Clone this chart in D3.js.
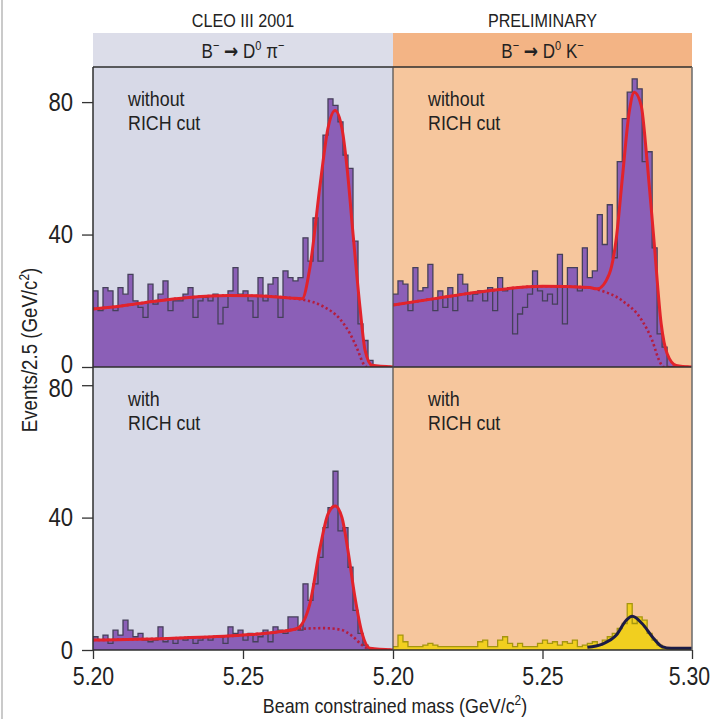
<!DOCTYPE html>
<html>
<head>
<meta charset="utf-8">
<script src="https://cdn.jsdelivr.net/npm/d3@7"></script>
<style>
  body { margin: 0; background: #fff; }
  svg text { font-family: "Liberation Sans", Arial, sans-serif; fill: #222; }
</style>
</head>
<body>
<div id="chart"></div>
<script>
// ---------------------------------------------------------------------------
// data: 60 bins from 5.20 to 5.30 GeV/c^2 in each panel
// ---------------------------------------------------------------------------
var massMin = 5.20, massMax = 5.30, binCount = 60;

// B- -> D0 pi-, without RICH cut
var piNoCut = [23,17,24,23,17,24,22,28,20,18, 15,25,19,22,26,17,20,20,22,24,
               15,20,21,20,22,13,18,23,30,22, 23,20,15,27,20,25,27,15,29,27,
               26,27,39,32,45,32,70,81,79,74, 64,60,38,13,8,2,0,0,0,0];
// B- -> D0 K-, without RICH cut
var kNoCut  = [22,26,25,17,30,23,24,31,17,23, 18,24,17,28,25,20,22,23,20,24,
               17,27,23,24,10,16,18,22,29,23, 20,22,19,34,13,30,30,23,36,27,
               29,46,37,49,33,62,75,83,87,84, 62,65,36,10,6,0,0,0,0,0];
// B- -> D0 pi-, with RICH cut
var piCut   = [4,3,4.5,2,6,4.5,9,6,4,5, 3,2.5,3,7,2.5,3.5,2,3.5,3,4,
               2,3,4,3,4,4,2,7,5,6, 3,5,2.5,4,6,2.5,7,6,5,10,
               10,6,20,15,20,28,37,43,54,36, 37,25,12,5,1.5,0.5,0,0,0,0];
// B- -> D0 K-, with RICH cut
var kCut    = [1,4.5,2.5,1,1,1,1.5,2,1.5,1, 1,1,1,1,1,1,1,2.5,3,1,
               1,3,4,2,1,2,1,1,1,2, 3,2,2.5,1.5,2.5,2,3,1,1.5,2,
               2.5,1.5,3,4,5,6.5,8,14,8,10, 9,5,3,1.5,0.5,0,0,0,0,0];

// fit curves [mass, events]: total fit and background-only (dotted)
var piNoCutFit = [[5.200,17.5],[5.210,18.5],[5.220,19.8],[5.232,21],[5.245,21.6],[5.258,21.4],
                  [5.266,20.8],[5.2697,20.6],[5.2723,30],[5.2757,55],[5.2783,72],[5.2807,77.5],
                  [5.2830,72],[5.2847,60],[5.2867,40],[5.2890,18],[5.2907,5],[5.2930,0.5],[5.300,0]];
var piNoCutBkg = [[5.200,17.5],[5.210,18.5],[5.220,19.8],[5.232,21],[5.245,21.6],[5.258,21.4],
                  [5.266,20.8],[5.2697,20.4],[5.2767,18.3],[5.2823,14.5],[5.2857,10],[5.2883,5],
                  [5.2900,1.2],[5.2913,0],[5.300,0]];
var kNoCutFit  = [[5.200,18.7],[5.215,20.8],[5.232,23],[5.250,24.4],[5.2657,24],[5.2683,23.6],
                  [5.2723,28],[5.2747,39],[5.2767,57],[5.2790,77],[5.2807,83],[5.2830,79],
                  [5.2850,62],[5.2873,38],[5.2897,13],[5.2917,4],[5.2947,0.5],[5.300,0]];
var kNoCutBkg  = [[5.200,18.7],[5.215,20.8],[5.232,23],[5.250,24.4],[5.2657,24],[5.2683,23.4],
                  [5.2767,20],[5.2833,14],[5.2867,8],[5.2890,2],[5.2905,0],[5.300,0]];
var piCutFit   = [[5.200,3],[5.225,3.5],[5.250,4.5],[5.262,5.5],[5.268,6.5],[5.2723,14],
                  [5.2757,31],[5.2783,41],[5.2807,43.5],[5.2830,40],[5.2850,30],[5.2873,16],
                  [5.2897,5],[5.2923,0.5],[5.300,0]];
var piCutBkg   = [[5.200,3],[5.225,3.5],[5.250,4.5],[5.262,5.5],[5.268,6.3],[5.2767,6.6],
                  [5.2823,6.2],[5.2867,4],[5.2897,1.5],[5.2923,0.3],[5.300,0]];
var kCutFit    = [[5.265,0.8],[5.270,1.8],[5.2747,4.5],[5.278,9],[5.280,10.2],[5.2833,8],
                  [5.2867,4],[5.290,1],[5.293,0.5],[5.300,0.5]];

// labels and ticks
var columnTitles = ["CLEO III 2001", "PRELIMINARY"];
var yTicks = [0, 40, 80];
var xTicksLeft = [5.20, 5.25], xTicksRight = [5.20, 5.25, 5.30];

//==============================================================================
//                              LAYOUT AND SCALES
//==============================================================================

var W = 710, H = 719;
var frame = { left: 93, mid: 393, right: 692, top: 67, split: 367, bottom: 650 };
var headerTop = 33;
var squeeze = 0.85;   // the original lettering is a condensed face

var colors = {
  bgPi: "#d7d9e7", bgK: "#f6c69d", headPi: "#dcdde9", headK: "#f3b485",
  purple: "#8b5fb7", outline: "#45405a", red: "#e2232b", redDot: "#b51d3e",
  yellow: "#f1cf1f", yellowLine: "#a5960f", navy: "#1b1b45"
};

var xLeft  = d3.scaleLinear().domain([massMin, massMax]).range([frame.left, frame.mid]);
var xRight = d3.scaleLinear().domain([massMin, massMax]).range([frame.mid, frame.right]);
var yTop    = d3.scaleLinear().domain([0, 90.6]).range([frame.split, frame.top]);
var yBottom = d3.scaleLinear().domain([0, 85.5]).range([frame.bottom, frame.split]);

var binWidth = (massMax - massMin) / binCount;

var panels = [
  { id: "pn", x: xLeft,  y: yTop,    counts: piNoCut, fit: piNoCutFit, bkg: piNoCutBkg,
    fill: colors.purple, line: colors.outline, fitColor: colors.red, label: ["without", "RICH cut"] },
  { id: "kn", x: xRight, y: yTop,    counts: kNoCut,  fit: kNoCutFit,  bkg: kNoCutBkg,
    fill: colors.purple, line: colors.outline, fitColor: colors.red, label: ["without", "RICH cut"] },
  { id: "pc", x: xLeft,  y: yBottom, counts: piCut,   fit: piCutFit,   bkg: piCutBkg,
    fill: colors.purple, line: colors.outline, fitColor: colors.red, label: ["with", "RICH cut"] },
  { id: "kc", x: xRight, y: yBottom, counts: kCut,    fit: kCutFit,    bkg: null,
    fill: colors.yellow, line: colors.yellowLine, fitColor: colors.navy, label: ["with", "RICH cut"] }
];

var svg = d3.select("#chart").append("svg")
  .attr("width", W).attr("height", H);

// condensed text anchored at (x, y)
function ctext(x, y, size, anchor, extra) {
  return svg.append("text")
    .attr("transform", "translate(" + x + "," + y + ")" + (extra || "") + " scale(" + squeeze + ",1)")
    .attr("font-size", size).attr("text-anchor", anchor || "start");
}

// faint scan edge on the left
svg.append("line").attr("x1", 2).attr("x2", 2).attr("y1", 0).attr("y2", H)
  .attr("stroke", "#b8b8b8").attr("stroke-width", 1.5);

// column backgrounds and header strips
svg.append("rect").attr("x", frame.left).attr("y", headerTop)
  .attr("width", frame.mid - frame.left).attr("height", frame.top - headerTop).attr("fill", colors.headPi);
svg.append("rect").attr("x", frame.mid).attr("y", headerTop)
  .attr("width", frame.right - frame.mid).attr("height", frame.top - headerTop).attr("fill", colors.headK);
svg.append("rect").attr("x", frame.left).attr("y", frame.top)
  .attr("width", frame.mid - frame.left).attr("height", frame.bottom - frame.top).attr("fill", colors.bgPi);
svg.append("rect").attr("x", frame.mid).attr("y", frame.top)
  .attr("width", frame.right - frame.mid).attr("height", frame.bottom - frame.top).attr("fill", colors.bgK);

//==============================================================================
//                                  PANELS
//==============================================================================

panels.forEach(function(p) {
  var x0 = p.x.range()[0], x1 = p.x.range()[1];
  var y0 = p.y.range()[1], y1 = p.y.range()[0];

  svg.append("clipPath").attr("id", "clip-" + p.id)
    .append("rect").attr("x", x0).attr("y", y0).attr("width", x1 - x0).attr("height", y1 - y0);

  var g = svg.append("g").attr("clip-path", "url(#clip-" + p.id + ")");

  var bins = p.counts.map(function(c, i) { return [massMin + i * binWidth, c]; });
  bins.push([massMax, p.counts[p.counts.length - 1]]);

  var histArea = d3.area().curve(d3.curveStepAfter)
    .x(function(d) { return p.x(d[0]); }).y0(p.y(0)).y1(function(d) { return p.y(d[1]); });
  var histLine = d3.line().curve(d3.curveStepAfter)
    .x(function(d) { return p.x(d[0]); }).y(function(d) { return p.y(d[1]); });
  var fitArea = d3.area().curve(d3.curveMonotoneX)
    .x(function(d) { return p.x(d[0]); }).y0(p.y(0)).y1(function(d) { return p.y(d[1]); });
  var fitLine = d3.line().curve(d3.curveMonotoneX)
    .x(function(d) { return p.x(d[0]); }).y(function(d) { return p.y(d[1]); });

  // filled region: under the fit and under the histogram
  g.append("path").datum(p.fit).attr("d", fitArea).attr("fill", p.fill);
  g.append("path").datum(bins).attr("d", histArea).attr("fill", p.fill);
  g.append("path").datum(bins).attr("d", histLine)
    .attr("fill", "none").attr("stroke", p.line).attr("stroke-width", 1.3);

  if (p.bkg) {
    g.append("path").datum(p.bkg).attr("d", fitLine)
      .attr("fill", "none").attr("stroke", colors.redDot).attr("stroke-width", 2.6)
      .attr("stroke-dasharray", "2.2,2.6");
  }
  g.append("path").datum(p.fit).attr("d", fitLine)
    .attr("fill", "none").attr("stroke", p.fitColor).attr("stroke-width", 3)
    .attr("stroke-linejoin", "round");

  // panel label
  var lab = ctext(x0 + 35, y0 + 39, 21);
  lab.append("tspan").attr("x", 0).text(p.label[0]);
  lab.append("tspan").attr("x", 0).attr("dy", 24).text(p.label[1]);
});

//==============================================================================
//                              FRAME AND AXES
//==============================================================================

var frameG = svg.append("g").attr("stroke", "#2e2e2e").attr("stroke-width", 1.5);
frameG.append("line").attr("x1", frame.left).attr("x2", frame.right).attr("y1", frame.top).attr("y2", frame.top);
frameG.append("line").attr("x1", frame.left).attr("x2", frame.right).attr("y1", frame.split).attr("y2", frame.split);
frameG.append("line").attr("x1", frame.left).attr("x2", frame.right).attr("y1", frame.bottom).attr("y2", frame.bottom);
frameG.append("line").attr("x1", frame.left).attr("x2", frame.left).attr("y1", frame.top).attr("y2", frame.bottom);
frameG.append("line").attr("x1", frame.mid).attr("x2", frame.mid).attr("y1", frame.top).attr("y2", frame.bottom)
  .attr("stroke", "#4a4a4a").attr("stroke-width", 1.2);
frameG.append("line").attr("x1", frame.right).attr("x2", frame.right).attr("y1", frame.top).attr("y2", frame.bottom)
  .attr("stroke", "#6a6a6a").attr("stroke-width", 1.5);

function styleAxis(size) {
  return function(sel) {
    sel.select(".domain").remove();
    sel.selectAll(".tick line").attr("stroke", "#333").attr("stroke-width", 1.3);
    sel.selectAll(".tick text").attr("font-size", size)
      .attr("font-family", "'Liberation Sans', Arial, sans-serif")
      .attr("fill", "#222").attr("transform", "scale(" + squeeze + ",1)");
  };
}

var yAxisTop = svg.append("g").attr("transform", "translate(" + frame.left + ",0)")
  .call(d3.axisLeft(yTop).tickValues(yTicks).tickSize(11).tickPadding(9).tickFormat(d3.format("d")))
  .call(styleAxis(26));
var yAxisBottom = svg.append("g").attr("transform", "translate(" + frame.left + ",0)")
  .call(d3.axisLeft(yBottom).tickValues(yTicks).tickSize(11).tickPadding(9).tickFormat(d3.format("d")))
  .call(styleAxis(26));
// keep the right edge of the labels at the same spot after squeezing
yAxisTop.selectAll(".tick text").attr("x", -20 / squeeze);
yAxisBottom.selectAll(".tick text").attr("x", -20 / squeeze);
// the stacked "0" / "80" at the panel split sit a little apart
yAxisTop.selectAll(".tick text").filter(function(d) { return d === 0; }).attr("dy", "0.2em");
yAxisBottom.selectAll(".tick text").filter(function(d) { return d === 80; }).attr("dy", "0.45em");

svg.append("g").attr("transform", "translate(0," + frame.bottom + ")")
  .call(d3.axisBottom(xLeft).tickValues(xTicksLeft).tickSize(9).tickPadding(8).tickFormat(d3.format(".2f")))
  .call(styleAxis(25));
var xAxisRight = svg.append("g").attr("transform", "translate(0," + frame.bottom + ")")
  .call(d3.axisBottom(xRight).tickValues(xTicksRight).tickSize(9).tickPadding(8).tickFormat(d3.format(".2f")))
  .call(styleAxis(25));
xAxisRight.selectAll(".tick text").filter(function(d) { return d === 5.30; }).attr("x", -3 / squeeze);

// column titles
ctext((frame.left + frame.mid) / 2, 27, 19, "middle").text(columnTitles[0]);
ctext((frame.mid + frame.right) / 2, 27, 19, "middle").text(columnTitles[1]);

// decay channels
function decay(cx, last, lastSup) {
  var t = ctext(cx, 58, 20, "middle");
  t.append("tspan").text("B");
  t.append("tspan").attr("dy", -8).attr("font-size", 13).text("\u2212");
  t.append("tspan").attr("dy", 8).text(" ");
  t.append("tspan").attr("font-family", "'DejaVu Sans', sans-serif").attr("font-weight", "bold")
    .attr("font-size", 20).text("\u2192");
  t.append("tspan").text(" D");
  t.append("tspan").attr("dy", -8).attr("font-size", 13).text("0");
  t.append("tspan").attr("dy", 8).text(" " + last);
  t.append("tspan").attr("dy", -8).attr("font-size", 13).text(lastSup);
}
decay((frame.left + frame.mid) / 2, "\u03c0", "\u2212");
decay((frame.mid + frame.right) / 2, "K", "\u2212");

// axis titles
var xt = ctext(395, 713, 21, "middle");
xt.append("tspan").text("Beam constrained mass (GeV/c");
xt.append("tspan").attr("dy", -8).attr("font-size", 14).text("2");
xt.append("tspan").attr("dy", 8).text(")");

var yt = ctext(37, 350, 22, "middle", " rotate(-90)");
yt.append("tspan").text("Events/2.5 (GeV/c");
yt.append("tspan").attr("dy", -8).attr("font-size", 14).text("2");
yt.append("tspan").attr("dy", 8).text(")");
</script>
</body>
</html>
